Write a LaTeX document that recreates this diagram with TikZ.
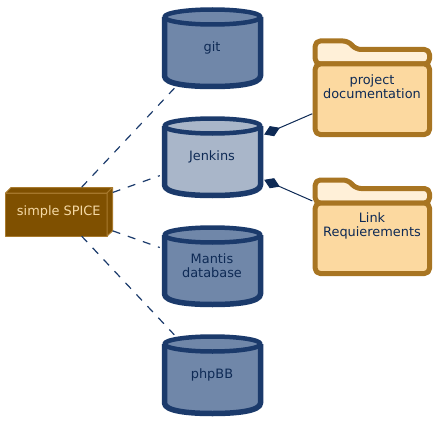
\documentclass[tikz,border=0pt]{standalone}
\usepackage{fontspec}
\setsansfont{DejaVu Sans}
\usepackage{xcolor}
\usetikzlibrary{arrows.meta}
\definecolor{dbedge}{HTML}{1B3A6B}
\definecolor{dbfill}{HTML}{7087A9}
\definecolor{dbactive}{HTML}{A9B6C9}
\definecolor{inktext}{HTML}{0E2A55}
\definecolor{folderedge}{HTML}{A87522}
\definecolor{folderfill}{HTML}{FCD9A0}
\definecolor{foldertab}{HTML}{FFF0D8}
\definecolor{boxfill}{HTML}{7F5000}
\definecolor{boxedge}{HTML}{A87A2E}
\definecolor{boxtext}{HTML}{F5D9A5}
\tikzset{
  dbline/.style={draw=dbedge,line width=5.5pt,line join=round},
  folderline/.style={draw=folderedge,line width=5pt,line join=round,rounded corners=5pt},
  boxline/.style={draw=boxedge,fill=boxfill,line width=1pt,line join=round},
  label/.style={font=\sffamily\fontsize{12.9}{14.2}\selectfont,text=inktext,align=center,inner sep=0pt},
  dblabel/.style={label,minimum width=104pt,minimum height=80pt},
  folderlabel/.style={label,minimum width=119pt,minimum height=97pt},
  dep/.style={draw=dbedge,line width=1.2pt,dash pattern=on 8pt off 8pt},
  owns/.style={draw=inktext,line width=1pt,-{Diamond[length=17pt,width=11pt]}}
}
\begin{document}
\begin{tikzpicture}[x=1pt,y=1pt]
  \useasboundingbox (0,0) rectangle (439,424);
  % box on the left
  \draw[boxline] (5.5,188) rectangle (107,231);
  \draw[boxline] (5.5,231) -- (11,236.5) -- (112.5,236.5) -- (107,231) -- cycle;
  \draw[boxline] (107,231) -- (112.5,236.5) -- (112.5,193) -- (107,188) -- cycle;
  \node[label,text=boxtext,minimum width=107.5pt,minimum height=48.5pt] (spice) at (58.75,212.25) {simple SPICE};
  % cylinders
  \foreach \name/\y/\col/\txt in {git/376/dbfill/{git},jenkins/267/dbactive/{Jenkins},mantis/158/dbfill/{Mantis\\database},phpbb/49/dbfill/{phpBB}}{
    \draw[dbline,fill=\col] (164.5,\y+31) -- (164.5,\y-28) .. controls (164.5,\y-36) and (188,\y-38.5) .. (212.5,\y-38.5) .. controls (237,\y-38.5) and (260.5,\y-36) .. (260.5,\y-28) -- (260.5,\y+31);
    \draw[dbline,line width=4.5pt,fill=\col] (212.5,\y+31) ellipse (48 and 7.5);
    \node[dblabel] (\name) at (212,\y) {\txt};
  }
  % folders
  \foreach \name/\y/\txt in {docs/336/{project\\documentation},reqs/197/{Link\\Requierements}}{
    \draw[folderline,fill=foldertab] (315.2,\y+24) -- (315.2,\y+47) -- (348,\y+47) -- (356,\y+38.5) -- (429.5,\y+38.5) -- (429.5,\y+24) -- cycle;
    \draw[folderline,fill=folderfill] (315.2,\y+24) -- (429.5,\y+24) -- (429.5,\y-46.5) -- (315.2,\y-46.5) -- cycle;
    \node[folderlabel] (\name) at (372,\y) {};
    \node[label] (\name text) at (372,\y+1) {\txt};
  }
  \draw[dep] (spice) -- (git);
  \draw[dep] (spice) -- (jenkins);
  \draw[dep] (spice) -- (mantis);
  \draw[dep] (spice) -- (phpbb);
  \draw[owns] (docs) -- (jenkins);
  \draw[owns] (reqs) -- (jenkins);
\end{tikzpicture}
\end{document}
